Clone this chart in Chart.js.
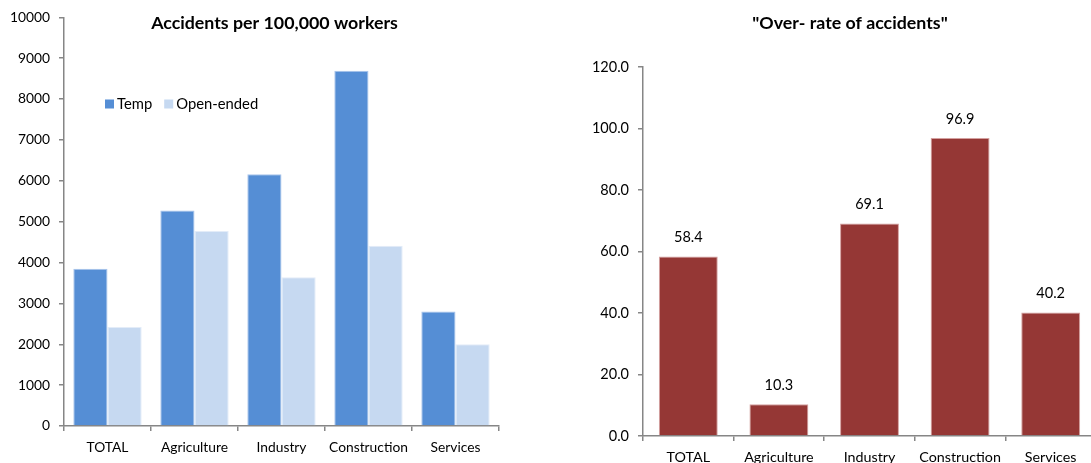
<!DOCTYPE html>
<html>
<head>
<meta charset="utf-8">
<script src="https://cdn.jsdelivr.net/npm/chart.js@4/dist/chart.umd.min.js"></script>
<style>
  html, body { margin: 0; padding: 0; background: #fff; }
  #wrap { position: relative; width: 1091px; height: 463px; overflow: hidden; }
  canvas { position: absolute; top: 0; }
  #left { left: 0; }
  #right { left: 545px; }
</style>
</head>
<body>
<div id="wrap">
  <canvas id="left" width="545" height="463"></canvas>
  <canvas id="right" width="552" height="463"></canvas>
</div>
<script>
// Sectors shown on both panels
const categories = ['TOTAL', 'Agriculture', 'Industry', 'Construction', 'Services'];

// Accidents per 100,000 workers by contract type
const tempRate = [3850, 5270, 6160, 8690, 2800];
const openEndedRate = [2420, 4770, 3640, 4410, 2000];

// Over-rate of accidents (temporary vs open-ended), %
const overRate = [58.4, 10.3, 69.1, 96.9, 40.2];

// Axis tick settings
const leftTicks = { min: 0, max: 10000, step: 1000 };
const rightTicks = { min: 0, max: 120, step: 20 };

const leftTitle = 'Accidents per 100,000 workers';
const rightTitle = '"Over- rate of accidents"';

const FONT = 'Lato, "Liberation Sans", sans-serif';
Chart.defaults.font.family = FONT;
Chart.defaults.color = '#000';
Chart.defaults.animation = false;

const AXIS = '#868686';

// Bold panel title drawn at a fixed spot in the canvas
function titlePlugin(text, cx, cy) {
  return {
    id: 'panelTitle',
    afterDraw(chart) {
      const ctx = chart.ctx;
      ctx.save();
      ctx.font = 'bold 17.8px ' + FONT;
      ctx.fillStyle = '#000';
      ctx.textAlign = 'center';
      ctx.textBaseline = 'middle';
      ctx.fillText(text, cx, cy);
      ctx.restore();
    }
  };
}

// Legend sitting inside the plot area of the left panel
const innerLegend = {
  id: 'innerLegend',
  afterDraw(chart) {
    const ctx = chart.ctx;
    const area = chart.chartArea;
    let x = area.left + 41;
    const y = 104;
    ctx.save();
    ctx.font = '14.8px ' + FONT;
    ctx.textBaseline = 'middle';
    ctx.textAlign = 'left';
    chart.data.datasets.forEach(ds => {
      ctx.fillStyle = ds.backgroundColor;
      ctx.fillRect(x, y - 4.5, 9, 9);
      ctx.fillStyle = '#000';
      ctx.fillText(ds.label, x + 12, y);
      x += 12 + ctx.measureText(ds.label).width + 12;
    });
    ctx.restore();
  }
};

// Value labels above each bar
const valueLabels = {
  id: 'valueLabels',
  afterDatasetsDraw(chart) {
    const ctx = chart.ctx;
    ctx.save();
    ctx.font = '14.5px ' + FONT;
    ctx.fillStyle = '#000';
    ctx.textAlign = 'center';
    ctx.textBaseline = 'middle';
    chart.data.datasets.forEach((ds, di) => {
      chart.getDatasetMeta(di).data.forEach((bar, i) => {
        ctx.fillText(ds.data[i].toFixed(1), bar.x, bar.y - 19);
      });
    });
    ctx.restore();
  }
};

function axisX(height, fontSize) {
  return {
    grid: { display: true, drawOnChartArea: false, drawTicks: true, tickLength: 5, color: AXIS, lineWidth: 1.5, offset: true },
    border: { display: true, color: AXIS, width: 1.5 },
    ticks: { padding: 8, font: { size: fontSize }, color: '#000', maxRotation: 0, autoSkip: false },
    afterFit(scale) { scale.height = height; }
  };
}

function axisY(t, width, fontSize, fmt) {
  return {
    min: t.min, max: t.max,
    grid: { display: true, drawOnChartArea: false, drawTicks: true, tickLength: 5, color: AXIS, lineWidth: 1.5 },
    border: { display: true, color: AXIS, width: 1.5 },
    ticks: { stepSize: t.step, padding: 9, font: { size: fontSize }, color: '#000', callback: fmt },
    afterFit(scale) { scale.width = width; }
  };
}

new Chart(document.getElementById('left'), {
  type: 'bar',
  data: {
    labels: categories,
    datasets: [
      { label: 'Temp', data: tempRate, backgroundColor: '#558ED5', borderColor: '#A9C4EB', borderWidth: 1, borderSkipped: 'bottom' },
      { label: 'Open-ended', data: openEndedRate, backgroundColor: '#C6D9F1', borderColor: '#E3ECF8', borderWidth: 1, borderSkipped: 'bottom' }
    ]
  },
  options: {
    responsive: false,
    layout: { padding: { left: 0, right: 46, top: 15, bottom: 0 } },
    categoryPercentage: 0.786,
    barPercentage: 1.0,
    plugins: { legend: { display: false }, tooltip: { enabled: false }, title: { display: false } },
    scales: {
      x: axisX(37, 13.8),
      y: axisY(leftTicks, 64, 13.8, v => String(v))
    }
  },
  plugins: [innerLegend, titlePlugin(leftTitle, 274.5, 23)]
});

new Chart(document.getElementById('right'), {
  type: 'bar',
  data: {
    labels: categories,
    datasets: [
      { label: 'Over-rate', data: overRate, backgroundColor: '#953735', borderColor: '#D4A09F', borderWidth: 1, borderSkipped: 'bottom' }
    ]
  },
  options: {
    responsive: false,
    layout: { padding: { left: 0, right: 1, top: 67, bottom: 0 } },
    categoryPercentage: 0.65,
    barPercentage: 1.0,
    plugins: { legend: { display: false }, tooltip: { enabled: false }, title: { display: false } },
    scales: {
      x: axisX(27, 14.3),
      y: axisY(rightTicks, 98, 14.5, v => Number(v).toFixed(1))
    }
  },
  plugins: [valueLabels, titlePlugin(rightTitle, 305, 23)]
});
</script>
</body>
</html>
